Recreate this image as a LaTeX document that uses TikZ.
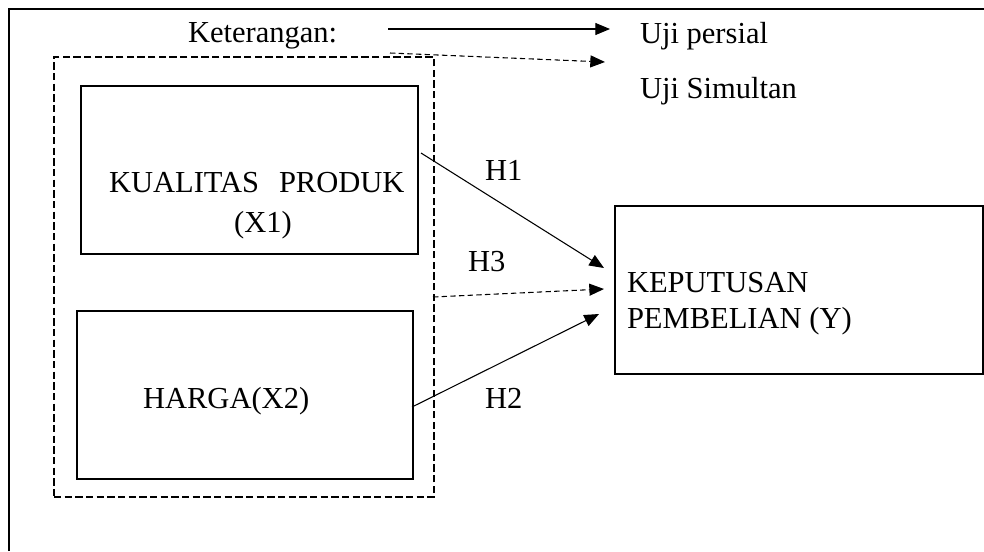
\documentclass[tikz,border=0pt]{standalone}
\usepackage{fontspec}
\setmainfont{Liberation Serif}
\usetikzlibrary{arrows.meta}
\begin{document}
\begin{tikzpicture}[x=0.75pt,y=-0.75pt,
  every node/.style={font=\fontsize{22.9}{27}\selectfont, inner sep=0pt, outer sep=0pt},
  box/.style={draw, line width=1.5pt, rectangle, inner sep=0pt},
  grp/.style={draw, line width=1.3pt, dash pattern=on 5.5pt off 2.5pt, rectangle, inner sep=0pt},
  conn/.style={line width=0.8pt, -{Triangle[length=11pt,width=9pt]}},
  dconn/.style={conn, dash pattern=on 4pt off 2.5pt},
  lbl/.style={anchor=base west}]
\useasboundingbox (0,0) rectangle (984,551);
% outer frame
\coordinate (fb) at (9,551);
\coordinate (fc) at (9,9);
\coordinate (fr) at (984,9);
\draw[line width=0.9pt] (fb) -- (fc) -- (fr);
% boxes
\node[grp, minimum width=380*0.75pt, minimum height=440*0.75pt] (grp) at (244,277) {};
\node[box, minimum width=337*0.75pt, minimum height=168*0.75pt] (x1) at (249.5,169.5) {};
\node[box, minimum width=336*0.75pt, minimum height=168*0.75pt] (x2) at (245,395) {};
\node[box, minimum width=368*0.75pt, minimum height=168*0.75pt] (y) at (799,290) {};
% box texts
\node[lbl] (x1a) at (109,192) {KUALITAS\hspace{0.65em}PRODUK};
\node[anchor=base] (x1b) at (263,232) {(X1)};
\node[lbl] (x2a) at (143,408) {HARGA(X2)};
\node[lbl] (ya) at (627,292) {KEPUTUSAN};
\node[lbl] (yb) at (627,328) {PEMBELIAN (Y)};
% legend
\node[lbl] (ket) at (188,42) {Keterangan:};
\node[lbl] (up) at (640,43) {Uji persial};
\node[lbl] (us) at (640,98) {Uji Simultan};
\coordinate (l1s) at (388,29);
\coordinate (l1e) at (610,29);
\coordinate (l2s) at (390,53);
\coordinate (l2e) at (605,62);
\draw[conn] (l1s) -- (l1e);
\draw[dconn] (l2s) -- (l2e);
% hypothesis arrows
\coordinate (h1s) at (421,153);
\coordinate (h1e) at (604,268);
\coordinate (h3s) at (433,297);
\coordinate (h3e) at (604,289);
\coordinate (h2s) at (412,407);
\coordinate (h2e) at (599,314);
\draw[conn] (h1s) -- (h1e);
\draw[dconn] (h3s) -- (h3e);
\draw[conn] (h2s) -- (h2e);
\node[lbl] (t1) at (485,180) {H1};
\node[lbl] (t3) at (468,271) {H3};
\node[lbl] (t2) at (485,408) {H2};
\end{tikzpicture}
\end{document}
